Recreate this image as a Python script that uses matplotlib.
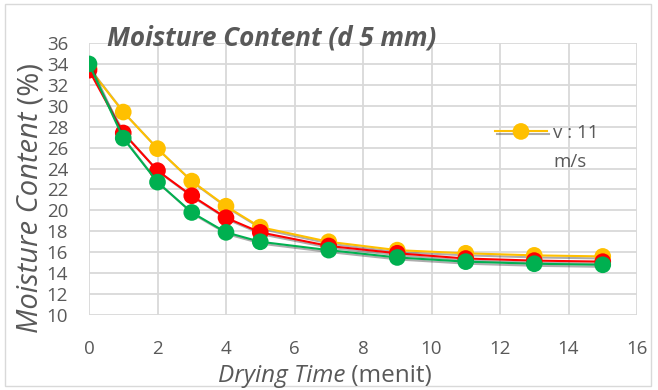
"""Moisture content vs drying time, d 5 mm."""
import matplotlib
matplotlib.use('Agg')
import matplotlib.pyplot as plt
import matplotlib.patheffects as pe
from matplotlib.patches import Rectangle

# drying time (menit)
time_min = [0, 1, 2, 3, 4, 5, 7, 9, 11, 13, 15]
# moisture content (%)
mc_yellow = [33.6, 29.4, 25.9, 22.8, 20.4, 18.4, 17.0, 16.2, 15.9, 15.7, 15.6]
mc_red = [33.4, 27.4, 23.8, 21.4, 19.3, 17.9, 16.6, 15.9, 15.4, 15.2, 15.1]
mc_green = [34.0, 26.9, 22.7, 19.8, 17.9, 17.0, 16.2, 15.5, 15.1, 14.9, 14.8]
legend_label = 'v : 11'
legend_label2 = 'm/s'
x_ticks = list(range(0, 17, 2))
y_ticks = list(range(10, 37, 2))

GREY = '#595959'
W, H = 658, 390
plt.rcParams['font.family'] = ['Open Sans', 'DejaVu Sans']

fig = plt.figure(figsize=(W / 100, H / 100), dpi=100)
ax = fig.add_axes([89 / W, 1 - 315 / H, 548 / W, 272 / H])

shadow = [pe.SimpleLineShadow(offset=(1.5, -1.5), shadow_color='#333333', alpha=0.4),
          pe.Normal()]
series = [(mc_yellow, '#FFC000'), (mc_red, '#FF0000'), (mc_green, '#00B050')]
lines = []
for vals, col in series:
    ln, = ax.plot(time_min, vals, color=col, lw=1.5, marker='o', ms=12,
                  markeredgewidth=0, path_effects=shadow, zorder=3)
    lines.append(ln)

ax.set_xlim(0, 16)
ax.set_ylim(10, 36)
ax.set_xticks(x_ticks)
ax.set_yticks(y_ticks)
ax.grid(True, color='#d9d9d9', lw=1.3)
ax.set_axisbelow(True)
for s in ax.spines.values():
    s.set_visible(False)
ax.tick_params(length=0, labelsize=13.5, colors=GREY)
ax.tick_params(axis='x', pad=18)
ax.tick_params(axis='y', pad=15)

# title
fig.text(272 / W, 1 - 52 / H, 'Moisture Content (d 5 mm)', fontsize=18.7,
         fontweight='bold', fontstyle='italic', color=GREY, ha='center', va='bottom')

# x label with mixed styles, centred as a whole
xl1 = fig.text(0, 1 - 382 / H, 'Drying Time', fontsize=17.5, fontstyle='italic',
               color=GREY, ha='left', va='baseline')
xl2 = fig.text(0, 1 - 382 / H, ' (menit)', fontsize=17.5, color=GREY,
               ha='left', va='baseline')
# y label with mixed styles
yl1 = fig.text(31 / W, 0, 'Moisture Content', fontsize=21, fontstyle='italic',
               color=GREY, rotation=90, ha='center', va='bottom')
yl2 = fig.text(31 / W, 0, ' (%)', fontsize=21, color=GREY, rotation=90,
               ha='center', va='bottom')

fig.canvas.draw()
r = fig.canvas.get_renderer()
w1 = xl1.get_window_extent(r).width
w2 = xl2.get_window_extent(r).width
x0 = 325 - (w1 + w2) / 2
xl1.set_x(x0 / W)
xl2.set_x((x0 + w1) / W)
h1 = yl1.get_window_extent(r).height
h2 = yl2.get_window_extent(r).height
ybot = (H - 198) - (h1 + h2) / 2
yl1.set_y(ybot / H)
yl2.set_y((ybot + h1) / H)

# legend (only the first entry is visible in the original)
leg = ax.legend([lines[0]], [legend_label], loc='center left',
                bbox_to_anchor=(495 / W, 1 - 133 / H), bbox_transform=fig.transFigure,
                frameon=False, fontsize=13.5, handlelength=2.77, handletextpad=0.3,
                borderaxespad=0, borderpad=0)
for t in leg.get_texts():
    t.set_color(GREY)
fig.text(553 / W, 1 - 162 / H, legend_label2, fontsize=13.5, color=GREY,
         ha='left', va='center')

# outer chart border
fig.patches.append(Rectangle((5 / W, 4 / H), 646 / W, 382 / H, transform=fig.transFigure,
                             fill=False, edgecolor='#d9d9d9', lw=1))

fig.savefig('out.png', dpi=100, facecolor='white')
